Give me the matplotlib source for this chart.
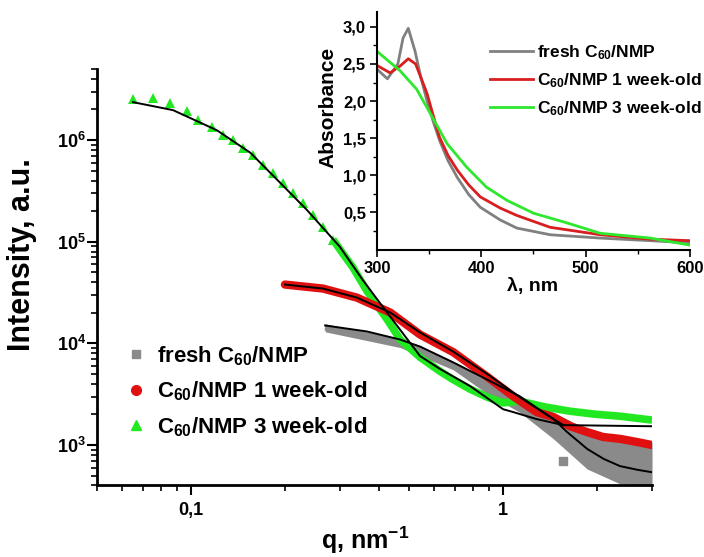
import math
import matplotlib
matplotlib.use('Agg')
import matplotlib.pyplot as plt
from matplotlib.ticker import FixedLocator, FuncFormatter, NullFormatter, LogLocator
from matplotlib.lines import Line2D

plt.rcParams['font.family'] = ['Liberation Sans', 'DejaVu Sans']
plt.rcParams['font.weight'] = 'bold'
plt.rcParams['mathtext.fontset'] = 'custom'
plt.rcParams['mathtext.rm'] = 'Liberation Sans:bold'
plt.rcParams['mathtext.it'] = 'Liberation Sans:bold'
plt.rcParams['mathtext.bf'] = 'Liberation Sans:bold'
plt.rcParams['mathtext.default'] = 'regular'

# ---------------- main plot data (SANS) ----------------
# 3 week-old: sparse triangles at low q
green_sparse_q = [0.0652, 0.0756, 0.0857, 0.097, 0.105, 0.117, 0.127, 0.136, 0.147, 0.158,
                  0.170, 0.183, 0.197, 0.212, 0.229, 0.246, 0.265, 0.285]
green_sparse_I = [2.52e6, 2.58e6, 2.31e6, 1.92e6, 1.57e6, 1.34e6, 1.12e6, 1.0e6, 8.4e5, 7.1e5,
                  5.7e5, 4.7e5, 3.8e5, 3.0e5, 2.41e5, 1.84e5, 1.40e5, 1.05e5]
# 3 week-old: dense band
green_q = [0.285, 0.307, 0.330, 0.367, 0.425, 0.468, 0.542, 0.628, 0.692, 0.784, 0.889,
           1.0, 1.13, 1.37, 1.64, 1.97, 2.37, 3.0]
green_I = [1.05e5, 7.6e4, 5.6e4, 3.24e4, 1.72e4, 1.09e4, 7.3e3, 5.3e3, 4.4e3, 3.54e3, 2.96e3,
           2.6e3, 2.7e3, 2.36e3, 2.15e3, 2.01e3, 1.92e3, 1.76e3]
# 1 week-old
red_q = [0.200, 0.265, 0.340, 0.435, 0.542, 0.692, 0.889, 1.077, 1.28, 1.45, 1.64, 1.86,
         2.09, 2.37, 2.69, 3.0]
red_I = [3.79e4, 3.46e4, 2.82e4, 2.01e4, 1.22e4, 8.2e3, 4.7e3, 3.02e3, 2.11e3, 1.88e3,
         1.53e3, 1.34e3, 1.20e3, 1.15e3, 1.07e3, 1.0e3]
# fresh
gray_q = [0.269, 0.324, 0.468, 0.542, 0.597, 0.692, 0.767, 0.889, 0.978, 1.13, 1.25, 1.45,
          1.60, 1.86, 2.05, 2.37, 2.61, 3.0]
gray_I = [1.44e4, 1.28e4, 1.02e4, 8.7e3, 7.5e3, 6.1e3, 5.2e3, 3.7e3, 3.5e3, 2.7e3, 2.25e3,
          1.6e3, 1.22e3, 9.5e2, 8.5e2, 7.0e2, 6.2e2, 5.8e2]
gray_band_q = [0.269, 0.468, 0.692, 0.889, 1.13, 1.45, 1.86, 2.37, 3.0]
gray_band_hi = [1.55e4, 1.12e4, 6.6e3, 4.3e3, 3.0e3, 2.1e3, 1.43e3, 1.15e3, 1.07e3]
gray_band_lo = [1.30e4, 9.1e3, 5.5e3, 3.2e3, 2.1e3, 1.15e3, 5.8e2, 4.15e2, 4.0e2]
gray_outlier_q = [1.56]
gray_outlier_I = [7.0e2]

# fits
fit_green_q = [0.0652, 0.0876, 0.121, 0.155, 0.189, 0.235, 0.300, 0.355, 0.425, 0.542,
               0.628, 0.784, 1.0, 1.077, 1.28, 1.56, 3.0]
fit_green_I = [2.36e6, 1.97e6, 1.25e6, 7.5e5, 4.06e5, 2.06e5, 8.9e4, 4.2e4, 2.01e4, 7.5e3,
               5.6e3, 3.8e3, 2.25e3, 2.11e3, 1.80e3, 1.57e3, 1.53e3]
fit_red_q = [0.200, 0.265, 0.340, 0.435, 0.542, 0.692, 0.889, 1.13, 1.45, 1.56]
fit_red_I = [3.79e4, 3.46e4, 2.82e4, 2.01e4, 1.28e4, 8.3e3, 5.0e3, 2.96e3, 1.80e3, 1.57e3]
fit_gray_q = [0.269, 0.366, 0.468, 0.542, 0.692, 0.889, 1.13, 1.45, 1.60, 1.86, 2.1, 2.37, 2.7, 3.0]
fit_gray_I = [1.50e4, 1.31e4, 1.09e4, 9.3e3, 6.5e3, 4.4e3, 3.02e3, 1.80e3, 1.35e3, 9.15e2,
              7.3e2, 6.2e2, 5.7e2, 5.4e2]

main_labels = ['fresh C$_{60}$/NMP', 'C$_{60}$/NMP 1 week-old', 'C$_{60}$/NMP 3 week-old']

# ---------------- inset data (UV-Vis) ----------------
uv_fresh_wl = [300, 310, 320, 325, 330, 336.5, 342, 348, 354, 360, 368, 377, 388, 399, 418,
               434, 466, 514, 562, 600]
uv_fresh_A = [2.43, 2.30, 2.50, 2.85, 2.98, 2.67, 2.32, 2.0, 1.72, 1.47, 1.20, 0.97, 0.74,
              0.57, 0.40, 0.29, 0.20, 0.155, 0.12, 0.09]
uv_1w_wl = [300, 312.5, 322, 330, 337, 342, 348, 354, 360, 368, 377, 388, 399, 418, 434,
            466, 514, 562, 600]
uv_1w_A = [2.48, 2.38, 2.47, 2.57, 2.5, 2.32, 2.1, 1.80, 1.51, 1.27, 1.07, 0.87, 0.71, 0.56,
           0.46, 0.30, 0.20, 0.14, 0.12]
uv_3w_wl = [300, 322, 338, 354, 367, 386, 405, 425, 450, 482, 514, 562, 600]
uv_3w_A = [2.67, 2.41, 2.16, 1.76, 1.43, 1.11, 0.84, 0.66, 0.49, 0.36, 0.22, 0.155, 0.06]
inset_labels = ['fresh C$_{60}$/NMP', 'C$_{60}$/NMP 1 week-old', 'C$_{60}$/NMP 3 week-old']

GRAY = '#8a8a8a'
RED = '#e01010'
GREEN = '#22e822'

fig = plt.figure(figsize=(7.04, 5.57), dpi=100)
ax = fig.add_axes([0.1378, 0.1284, 0.7884, 0.7477])

# data bands
ax.fill_between(gray_band_q, gray_band_lo, gray_band_hi, color=GRAY, lw=0, zorder=2)
ax.plot(gray_q, gray_I, color=GRAY, lw=4.5, solid_capstyle='butt', zorder=2)
ax.plot(gray_outlier_q, gray_outlier_I, ls='none', marker='s', ms=6, color=GRAY, zorder=2)
ax.plot(green_sparse_q, green_sparse_I, ls='none', marker='^', ms=7, color=GREEN, mew=0, zorder=3)
ax.plot(green_q, green_I, color=GREEN, lw=5.5, solid_capstyle='butt', zorder=3)
ax.plot(red_q, red_I, color=RED, lw=6, solid_capstyle='round', zorder=4)

# fits
for fq, fI in [(fit_gray_q, fit_gray_I), (fit_green_q, fit_green_I), (fit_red_q, fit_red_I)]:
    ax.plot(fq, fI, color='black', lw=1.4, zorder=6)

ax.set_xscale('log')
ax.set_yscale('log')
ax.set_xlim(0.05, 3.0)
ax.set_ylim(400, 5e6)

for s in ['top', 'right']:
    ax.spines[s].set_visible(False)
for s in ['left', 'bottom']:
    ax.spines[s].set_linewidth(2)

ax.xaxis.set_major_locator(FixedLocator([0.1, 1]))
ax.xaxis.set_major_formatter(FuncFormatter(lambda v, p: f'{v:g}'.replace('.', ',')))
ax.xaxis.set_minor_locator(LogLocator(base=10, subs=range(2, 10), numticks=20))
ax.xaxis.set_minor_formatter(NullFormatter())
ax.yaxis.set_major_locator(FixedLocator([1e3, 1e4, 1e5, 1e6]))
ax.yaxis.set_major_formatter(FuncFormatter(lambda v, p: r'$10^{%d}$' % round(math.log10(v))))
ax.yaxis.set_minor_locator(LogLocator(base=10, subs=range(2, 10), numticks=20))
ax.yaxis.set_minor_formatter(NullFormatter())
ax.tick_params(which='major', direction='out', length=7, width=1.5, labelsize=13)
ax.tick_params(which='minor', direction='out', length=4, width=1.2)
ax.tick_params(axis='x', which='major', pad=5)
ax.tick_params(axis='y', which='major', pad=1)

handles = [Line2D([], [], ls='none', marker='s', ms=6, color=GRAY),
           Line2D([], [], ls='none', marker='o', ms=7, color=RED),
           Line2D([], [], ls='none', marker='^', ms=7, color=GREEN)]
ax.legend(handles, main_labels, loc='upper left', bbox_to_anchor=(125 / 704, 1 - 344 / 557),
          bbox_transform=fig.transFigure, frameon=False, fontsize=16, handlelength=1.0,
          handletextpad=0.45, labelspacing=0.54, borderpad=0, borderaxespad=0)

fig.text(22 / 704, 1 - 255 / 557, 'Intensity, a.u.', rotation=90, ha='center', va='center', fontsize=22)
fig.text(365 / 704, 1 - 540 / 557, 'q, nm$^{-1}$', ha='center', va='center', fontsize=18)

# ---------------- inset ----------------
ins = fig.add_axes([0.5355, 0.5519, 0.4446, 0.4266])
ins.plot(uv_fresh_wl, uv_fresh_A, color='#808080', lw=2)
ins.plot(uv_1w_wl, uv_1w_A, color='#d81e1e', lw=2)
ins.plot(uv_3w_wl, uv_3w_A, color='#2ee82e', lw=2)
ins.set_xlim(300, 600)
ins.set_ylim(0, 3.2)
for s in ['top', 'right']:
    ins.spines[s].set_visible(False)
for s in ['left', 'bottom']:
    ins.spines[s].set_linewidth(1.5)
ins.xaxis.set_major_locator(FixedLocator([300, 400, 500, 600]))
ins.xaxis.set_minor_locator(FixedLocator([350, 450, 550]))
ins.yaxis.set_major_locator(FixedLocator([0.5, 1.0, 1.5, 2.0, 2.5, 3.0]))
ins.yaxis.set_minor_locator(FixedLocator([0.25, 0.75, 1.25, 1.75, 2.25, 2.75]))
ins.yaxis.set_major_formatter(FuncFormatter(lambda v, p: f'{v:.1f}'.replace('.', ',')))
ins.tick_params(which='major', direction='out', length=5, width=1.2, labelsize=12, pad=3)
ins.tick_params(which='minor', direction='out', length=3, width=1.0)

ins_handles = [Line2D([], [], color='#808080', lw=2), Line2D([], [], color='#d81e1e', lw=2),
               Line2D([], [], color='#2ee82e', lw=2)]
ins.legend(ins_handles, inset_labels, loc='upper left', bbox_to_anchor=(490 / 704, 1 - 43 / 557),
           bbox_transform=fig.transFigure, frameon=False, fontsize=12.5, handlelength=2.5,
           handletextpad=0.2, labelspacing=0.55, borderpad=0, borderaxespad=0)

fig.text(328 / 704, 1 - 107 / 557, 'Absorbance', rotation=90, ha='center', va='center', fontsize=15)
fig.text(533 / 704, 1 - 287 / 557, 'λ, nm', ha='center', va='center', fontsize=14)

fig.savefig('out.png', dpi=100)
